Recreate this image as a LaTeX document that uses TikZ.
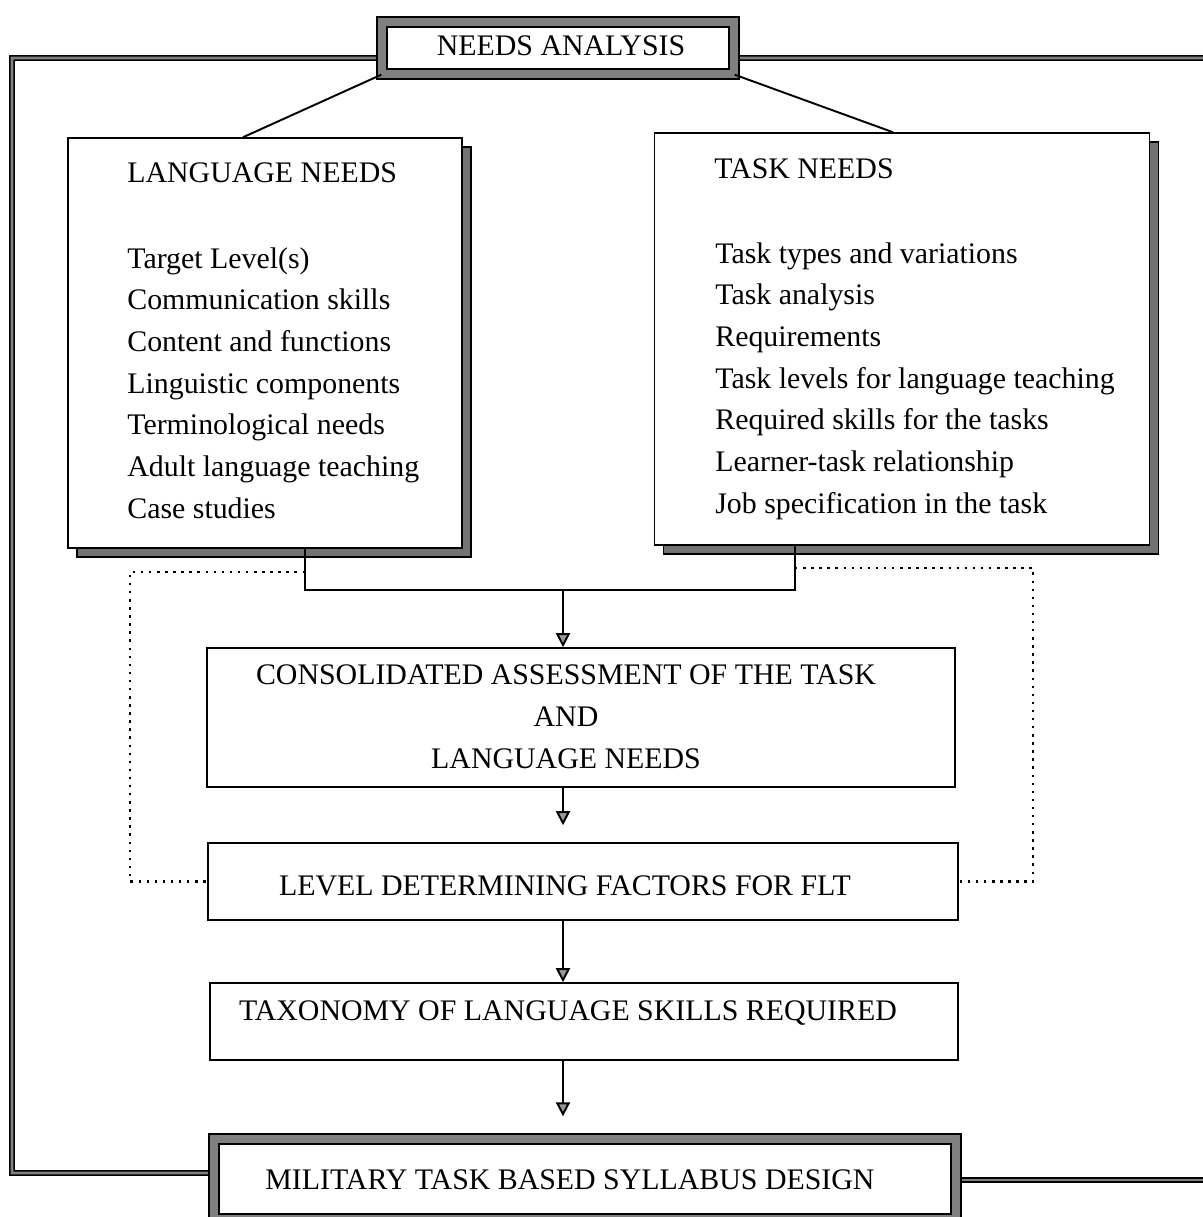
\documentclass[tikz,border=0pt]{standalone}
\usepackage{fontspec}
\setmainfont{Liberation Serif}
\usetikzlibrary{arrows.meta,shadows}

\begin{document}
\begin{tikzpicture}[x=0.02cm, y=-0.02cm,
    every node/.style={font=\fontsize{17}{20}\selectfont, inner sep=0pt},
    box/.style={draw, line width=0.9pt, fill=white},
    heavyframe/.style={draw, line width=0.8pt, double=black!50, double distance=0.17cm},
    shadowed/.style={box, drop shadow={shadow xshift=0.18cm, shadow yshift=-0.18cm, fill=black!55, draw=black, opacity=1}},
    link/.style={line width=1.1pt},
    flow/.style={link, -{Triangle[width=0.28cm, length=0.28cm, fill=black!40]}},
    dots/.style={line width=1.3pt, dash pattern=on 1.4pt off 3.2pt},
    backline/.style={line width=0.8pt, double=black!50, double distance=1.6pt}]
    \useasboundingbox (0, 0) rectangle (1203, 1217);

    \node[heavyframe, fill=white, minimum width=7.04cm, minimum height=1.04cm] (needs) at (558, 48) {};
    \node[anchor=base] (needs-text) at (561, 55) {NEEDS ANALYSIS};

    \node[shadowed, minimum width=7.88cm, minimum height=8.2cm] (langbox) at (265, 343) {};
    \node[shadowed, minimum width=9.9cm, minimum height=8.24cm] (taskbox) at (902, 339) {};
    \node[anchor=base west] (lang-head) at (127, 182) {LANGUAGE NEEDS};
    \node[anchor=base west] (task-head) at (714, 178) {TASK NEEDS};
    \foreach \t [count=\i] in {Target Level(s), Communication skills, Content and functions,
        Linguistic components, Terminological needs, Adult language teaching, Case studies}{%
        \node[anchor=base west] (lang-\i) at (127, {226.3+41.7*\i}) {\t};
    }
    \foreach \t [count=\i] in {Task types and variations, Task analysis, Requirements,
        Task levels for language teaching, Required skills for the tasks,
        Learner-task relationship, Job specification in the task}{%
        \node[anchor=base west] (task-\i) at (715, {221.3+41.7*\i}) {\t};
    }

    \node[box, minimum width=14.96cm, minimum height=2.78cm] (consol) at (581, 717.5) {};
    \node[align=center, font=\fontsize{17}{23.9}\selectfont] (consol-text) at (566, 717)
        {CONSOLIDATED ASSESSMENT OF THE TASK\\AND\\LANGUAGE NEEDS};
    \node[box, minimum width=15cm, minimum height=1.54cm] (level) at (583, 881.5) {};
    \node[anchor=base] (level-text) at (565, 895) {LEVEL DETERMINING FACTORS FOR FLT};
    \node[box, minimum width=14.96cm, minimum height=1.54cm] (taxon) at (584, 1021.5) {};
    \node[anchor=base] (taxon-text) at (568, 1020) {TAXONOMY OF LANGUAGE SKILLS REQUIRED};
    \node[heavyframe, fill=white, minimum width=14.84cm, minimum height=1.6cm] (military) at (585, 1179) {};
    \node[anchor=base] (military-text) at (570, 1189) {MILITARY TASK BASED SYLLABUS DESIGN};

    \coordinate (edgeL) at (12, 58);
    \coordinate (edgeR) at (1203, 58);
    \coordinate (edgeRB) at (1203, 1180);
    \draw[backline] ([xshift=-0.11cm, yshift=-0.2cm]needs.west) -- (edgeL) |- ([xshift=-0.11cm, yshift=0.12cm]military.west);
    \draw[backline] ([xshift=0.11cm, yshift=-0.2cm]needs.east) -- (edgeR);
    \draw[backline] ([xshift=0.11cm, yshift=-0.02cm]military.east) -- (edgeRB);

    \draw[link] (needs.south west) -- ([xshift=-0.44cm]langbox.north);
    \draw[link] (needs.south east) -- ([xshift=-0.18cm]taskbox.north);

    \coordinate (joinL) at (305, 590);
    \coordinate (joinR) at (795, 590);
    \coordinate (spine) at (563, 590);
    \draw[link] (langbox.south -| joinL) -- (joinL) -- (joinR) -- (taskbox.south -| joinR);
    \draw[flow] (spine) -- (spine |- consol.north);
    \draw[flow, shorten >=0.34cm] (spine |- consol.south) -- (spine |- level.north);
    \draw[flow] (spine |- level.south) -- (spine |- taxon.north);
    \draw[flow, shorten >=0.44cm] (spine |- taxon.south) -- (spine |- military.north);

    \coordinate (dotL) at (130, 572);
    \coordinate (dotR) at (1033, 568);
    \draw[dots] (joinL |- dotL) -- (dotL) |- (level.west);
    \draw[dots] (joinR |- dotR) -- (dotR) |- (level.east);
\end{tikzpicture}
\end{document}
